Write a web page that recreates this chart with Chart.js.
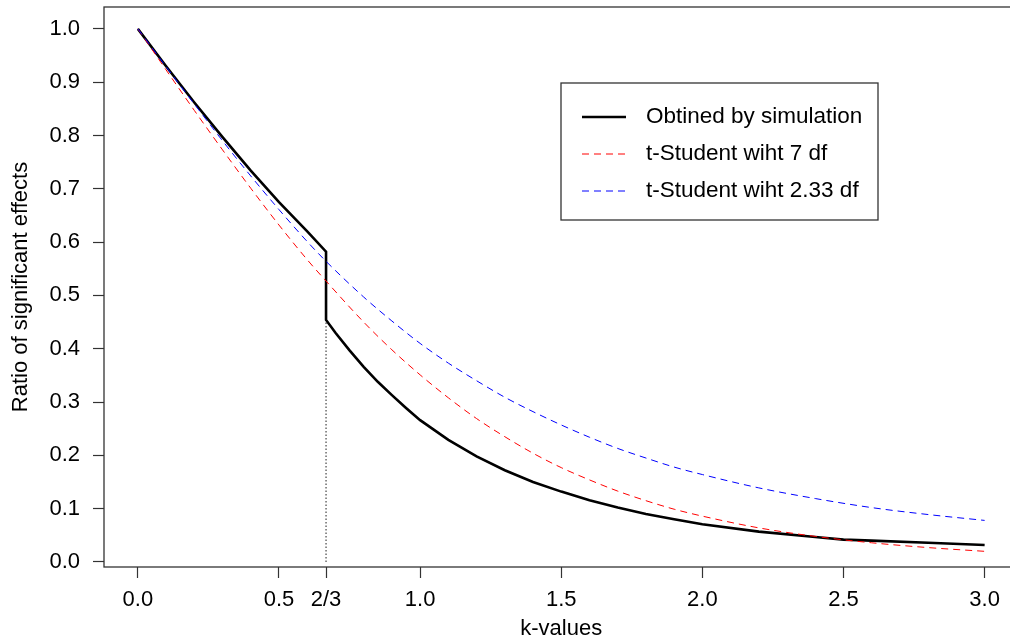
<!DOCTYPE html>
<html><head><meta charset="utf-8">
<script src="https://cdn.jsdelivr.net/npm/chart.js@4.4.1/dist/chart.umd.min.js"></script>
<style>html,body{margin:0;padding:0;background:#fff;overflow:hidden;} #wrap{width:1025px;height:642px;}</style>
</head><body><div id="wrap"><canvas id="c" width="1025" height="642"></canvas></div>
<script>
// ---- tick labels ----
const xTickValues = [0, 0.5, 2/3, 1.0, 1.5, 2.0, 2.5, 3.0];
const xTickLabels = ['0.0', '0.5', '2/3', '1.0', '1.5', '2.0', '2.5', '3.0'];
const yTickValues = [0, 0.1, 0.2, 0.3, 0.4, 0.5, 0.6, 0.7, 0.8, 0.9, 1.0];
const yTickLabels = ['0.0', '0.1', '0.2', '0.3', '0.4', '0.5', '0.6', '0.7', '0.8', '0.9', '1.0'];

// ---- series ----
const seriesNames = ['Obtined by simulation', 't-Student wiht 7 df', 't-Student wiht 2.33 df'];

const xSim = [0, 0.1, 0.2, 0.3, 0.4, 0.5, 0.6, 2/3, 2/3, 0.7, 0.75, 0.8, 0.85, 0.9, 0.95, 1.0, 1.1, 1.2, 1.3, 1.4, 1.5, 1.6, 1.7, 1.8, 1.9, 2.0, 2.2, 2.4, 2.5, 2.6, 2.8, 3.0];
const ySim = [1.0, 0.93, 0.862, 0.797, 0.734, 0.675, 0.62, 0.582, 0.454, 0.430, 0.397, 0.366, 0.338, 0.313, 0.289, 0.266, 0.229, 0.198, 0.172, 0.150, 0.132, 0.116, 0.102, 0.090, 0.080, 0.0707, 0.057, 0.047, 0.042, 0.040, 0.036, 0.032];

const xT = [0, 0.1, 0.2, 0.3, 0.4, 0.5, 0.6, 2/3, 0.8, 0.9, 1.0, 1.1, 1.2, 1.3, 1.4, 1.5, 1.6, 1.7, 1.8, 1.9, 2.0, 2.2, 2.4, 2.6, 2.8, 3.0];
const yT7 = [1.0, 0.923, 0.847, 0.773, 0.701, 0.632, 0.567, 0.527, 0.450, 0.398, 0.351, 0.308, 0.269, 0.235, 0.204, 0.177, 0.154, 0.133, 0.115, 0.099, 0.086, 0.064, 0.048, 0.036, 0.027, 0.020];
const yT233 = [1.0, 0.929, 0.859, 0.79, 0.724, 0.661, 0.601, 0.564, 0.497, 0.452, 0.410, 0.373, 0.340, 0.309, 0.282, 0.257, 0.234, 0.213, 0.195, 0.178, 0.164, 0.139, 0.119, 0.102, 0.089, 0.078];

// vertical reference at k = 2/3
const xRef = [2/3, 2/3];
const yRef = [0, 0.454];

const pts = (xs, ys) => xs.map((x, i) => ({x: x, y: ys[i]}));

const FONT = '"Liberation Sans", Arial, sans-serif';
const AXIS_COLOR = '#333';

const boxPlugin = {
  id: 'rbox',
  afterDraw(chart) {
    const {ctx, chartArea: a} = chart;
    ctx.save();
    ctx.strokeStyle = AXIS_COLOR;
    ctx.lineWidth = 1.3;
    ctx.strokeRect(a.left, a.top, a.right - a.left, a.bottom - a.top);
    ctx.restore();
  }
};

const legendPlugin = {
  id: 'rlegend',
  afterDraw(chart) {
    const ctx = chart.ctx;
    const bx = 561, by = 83, bw = 317, bh = 137;
    ctx.save();
    ctx.fillStyle = '#fff';
    ctx.fillRect(bx, by, bw, bh);
    ctx.strokeStyle = AXIS_COLOR;
    ctx.lineWidth = 1.3;
    ctx.strokeRect(bx, by, bw, bh);
    const rows = [117, 154, 191];
    ctx.font = '22.5px ' + FONT;
    ctx.textBaseline = 'middle';
    ctx.textAlign = 'left';
    for (let i = 0; i < 3; i++) {
      const ds = chart.data.datasets[i];
      ctx.beginPath();
      ctx.strokeStyle = ds.borderColor;
      ctx.lineWidth = ds.borderWidth;
      ctx.setLineDash(ds.borderDash || []);
      ctx.moveTo(582, rows[i]);
      ctx.lineTo(626, rows[i]);
      ctx.stroke();
      ctx.setLineDash([]);
      ctx.fillStyle = '#000';
      ctx.fillText(ds.label, 646, rows[i]);
    }
    ctx.restore();
  }
};

new Chart(document.getElementById('c'), {
  type: 'line',
  data: {
    datasets: [
      {label: seriesNames[0], data: pts(xSim, ySim), borderColor: '#000', borderWidth: 2.6, pointRadius: 0, tension: 0, order: 3},
      {label: seriesNames[1], data: pts(xT, yT7), borderColor: '#ff0000', borderWidth: 1, borderDash: [7, 5], pointRadius: 0, cubicInterpolationMode: 'monotone', order: 2},
      {label: seriesNames[2], data: pts(xT, yT233), borderColor: '#0000ff', borderWidth: 1, borderDash: [7, 5], pointRadius: 0, cubicInterpolationMode: 'monotone', order: 1},
      {label: '', data: pts(xRef, yRef), borderColor: '#444', borderWidth: 1.2, borderDash: [1.5, 2], pointRadius: 0, tension: 0, order: 4}
    ]
  },
  options: {
    responsive: false,
    animation: false,
    layout: {padding: {left: 0, top: 7, right: 6.5, bottom: 0}},
    plugins: {legend: {display: false}, tooltip: {enabled: false}},
    scales: {
      x: {
        type: 'linear', min: -0.12, max: 3.12,
        afterBuildTicks: s => { s.ticks = xTickValues.map(v => ({value: v})); },
        afterFit: s => { s.height = 75; s.paddingLeft = 0; s.paddingRight = 0; },
        grid: {drawOnChartArea: false, drawTicks: true, tickLength: 11, color: AXIS_COLOR, tickColor: AXIS_COLOR, tickWidth: 1.2},
        border: {display: false},
        ticks: {autoSkip: false, maxRotation: 0, padding: 9, color: '#000', font: {family: FONT, size: 22},
          callback: (v, i) => xTickLabels[i]},
        title: {display: true, text: 'k-values', color: '#000', font: {family: FONT, size: 22, lineHeight: 1.2}, padding: {top: 0, bottom: 0}}
      },
      y: {
        type: 'linear', min: -0.0094, max: 1.041,
        afterBuildTicks: s => { s.ticks = yTickValues.map(v => ({value: v})); },
        afterFit: s => { s.width = 104; s.paddingTop = 0; s.paddingBottom = 0; },
        grid: {drawOnChartArea: false, drawTicks: true, tickLength: 11, color: AXIS_COLOR, tickColor: AXIS_COLOR, tickWidth: 1.2},
        border: {display: false},
        ticks: {autoSkip: false, padding: 13, color: '#000', font: {family: FONT, size: 22},
          callback: (v, i) => yTickLabels[i]},
        title: {display: true, text: 'Ratio of significant effects', color: '#000', font: {family: FONT, size: 22, lineHeight: 1.2}, padding: {top: 8, bottom: 0}}
      }
    }
  },
  plugins: [boxPlugin, legendPlugin]
});
</script>
</body></html>
